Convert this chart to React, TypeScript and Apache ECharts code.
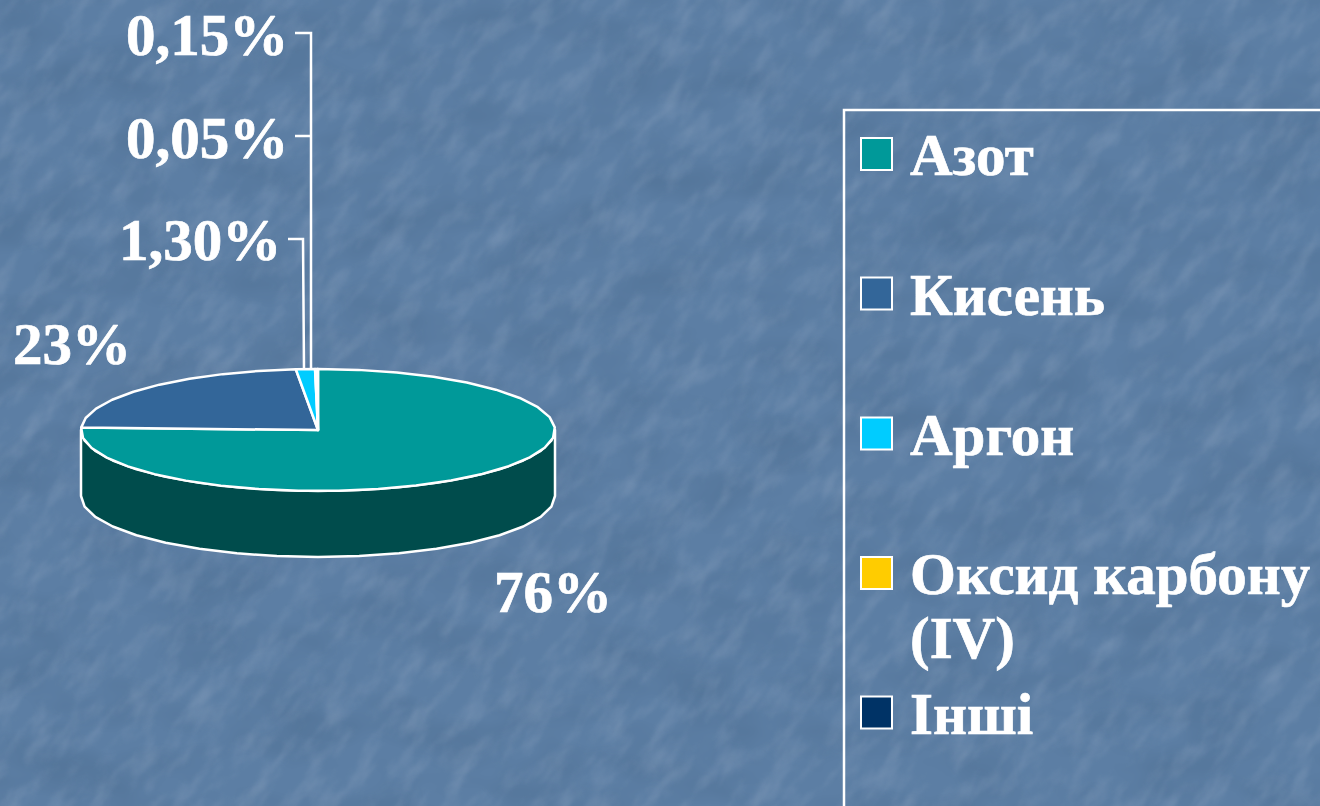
import React, { useEffect, useRef } from "react";
import * as echarts from "echarts";

const categories = ["Азот", "Кисень", "Аргон", "Оксид карбону (IV)", "Інші"];
const legendLines = [["Азот"], ["Кисень"], ["Аргон"], ["Оксид карбону", "(IV)"], ["Інші"]];
const shares = [76, 23, 1.3, 0.15, 0.05];
const shareLabels = ["76%", "23%", "1,30%", "0,15%", "0,05%"];
const topColors = ["#009999", "#336699", "#00CCFF", "#FFCC00", "#003366"];
const wallColors = ["#004C4C", "#1A334C", "#00667F", "#7F6600", "#001A33"];

const CX = 318, CY = 430, RX = 237, RY = 61, DEPTH = 66;
const FONT = '"Liberation Serif", "Times New Roman", serif';
const LABEL_SIZE = 59;
const LEGEND_SIZE = 59;
const labelBoxes = [
  { x: 494, y: 592 }, { x: 13, y: 344 }, { x: 119, y: 240 }, { x: 126, y: 35 }, { x: 126, y: 138 },
];
const leaders: (number[][] | null)[] = [
  null, null,
  [[288, 239], [303, 239], [304, 369]],
  [[295, 33], [311, 33], [311, 369]],
  [[295, 136], [311, 136]],
];
const legendCentersY = [154, 293.5, 433.5, 573, 712.5];
const legendLineBaselineOffset = 18;
const legendLineGap = 64;

const noise = `<svg xmlns='http://www.w3.org/2000/svg' width='1320' height='806'>
<filter id='a' x='0' y='0' width='100%' height='100%' color-interpolation-filters='sRGB'><feTurbulence type='fractalNoise' baseFrequency='0.025 0.06' numOctaves='4' seed='7'/><feColorMatrix values='0 0 0 0 0.60 0 0 0 0 0.68 0 0 0 0 0.78 0.7 0 0 0 -0.31'/><feGaussianBlur stdDeviation='1.2'/></filter>
<filter id='b' x='0' y='0' width='100%' height='100%' color-interpolation-filters='sRGB'><feTurbulence type='fractalNoise' baseFrequency='0.012 0.02' numOctaves='3' seed='11'/><feColorMatrix values='0 0 0 0 0.31 0 0 0 0 0.44 0 0 0 0 0.58 1.2 0 0 0 -0.45'/></filter>
<rect width='1320' height='806' fill='#5c7ea4'/>
<rect width='1320' height='806' filter='url(#b)'/>
<g transform='rotate(-52 660 403)'><rect x='-300' y='-500' width='1920' height='1806' filter='url(#a)'/></g>
</svg>`;

const pt = (deg: number, dy = 0) => {
  const r = (deg * Math.PI) / 180;
  return [CX + RX * Math.sin(r), CY - RY * Math.cos(r) + dy];
};
const arc = (a: number, b: number, dy = 0) => {
  const steps = Math.max(1, Math.ceil(Math.abs(b - a) / 10));
  const out: number[][] = [];
  for (let i = 0; i <= steps; i++) out.push(pt(a + ((b - a) * i) / steps, dy));
  return out;
};

export default function App() {
  const ref = useRef<HTMLDivElement>(null);
  useEffect(() => {
    const chart = echarts.init(ref.current!, null, { renderer: "svg" });
    const total = shares.reduce((s, v) => s + v, 0);
    const line = { stroke: "#fff", lineWidth: 2.5, lineJoin: "round" };
    const textStroke = { stroke: "#fff", lineWidth: 0.7 };

    const renderItem = (params: any, api: any) => {
      const i = params.dataIndex;
      const before = shares.slice(0, i).reduce((s, v) => s + v, 0);
      const start = (before / total) * 360;
      const end = start + (api.value(0) / total) * 360;
      const children: any[] = [];
      const wa = Math.max(start, 90), wb = Math.min(end, 270);
      if (wb > wa) {
        children.push({
          type: "polygon",
          shape: { points: [...arc(wa, wb), ...arc(wb, wa, DEPTH)] },
          style: { fill: wallColors[i], ...line },
        });
      }
      children.push({
        type: "polygon",
        shape: { points: [[CX, CY], ...arc(start, end)] },
        style: { fill: topColors[i], ...line },
      });
      const lead = leaders[i];
      if (lead) {
        children.push({
          type: "polyline",
          shape: { points: lead },
          style: { fill: "none", stroke: "#fff", lineWidth: 2.5 },
        });
      }
      children.push({
        type: "text",
        x: labelBoxes[i].x,
        y: labelBoxes[i].y,
        style: {
          text: shareLabels[i], fill: "#fff", font: `bold ${LABEL_SIZE}px ${FONT}`,
          align: "left", verticalAlign: "middle", ...textStroke,
        },
      });
      return { type: "group", children };
    };

    const legendGraphics: any[] = [
      {
        type: "polyline",
        shape: { points: [[1320, 110], [844, 110], [844, 806]] },
        style: { fill: "none", stroke: "#fff", lineWidth: 2.5 },
      },
    ];
    categories.forEach((name, i) => {
      const cy = legendCentersY[i];
      legendGraphics.push({
        type: "rect",
        shape: { x: 861, y: cy - 16, width: 31, height: 32 },
        style: { fill: topColors[i], stroke: "#fff", lineWidth: 2 },
      });
      legendLines[i].forEach((t, j) => {
        legendGraphics.push({
          type: "text",
          x: 910,
          y: cy + j * legendLineGap + legendLineBaselineOffset - LEGEND_SIZE * 0.28,
          style: {
            text: t, fill: "#fff", font: `bold ${LEGEND_SIZE}px ${FONT}`,
            align: "left", verticalAlign: "middle", ...textStroke,
          },
        });
      });
    });

    chart.setOption({
      animation: false,
      backgroundColor: "transparent",
      graphic: legendGraphics,
      series: [
        {
          type: "custom",
          coordinateSystem: "none",
          silent: true,
          renderItem,
          data: shares.map((v, i) => ({ name: categories[i], value: [v] })),
        },
      ],
    });
    return () => chart.dispose();
  }, []);

  return (
    <div
      style={{
        position: "fixed", left: 0, top: 0, width: 1320, height: 806, overflow: "hidden",
        backgroundImage: `url("data:image/svg+xml,${encodeURIComponent(noise)}")`,
      }}
    >
      <div ref={ref} style={{ width: 1320, height: 806 }} />
    </div>
  );
}
